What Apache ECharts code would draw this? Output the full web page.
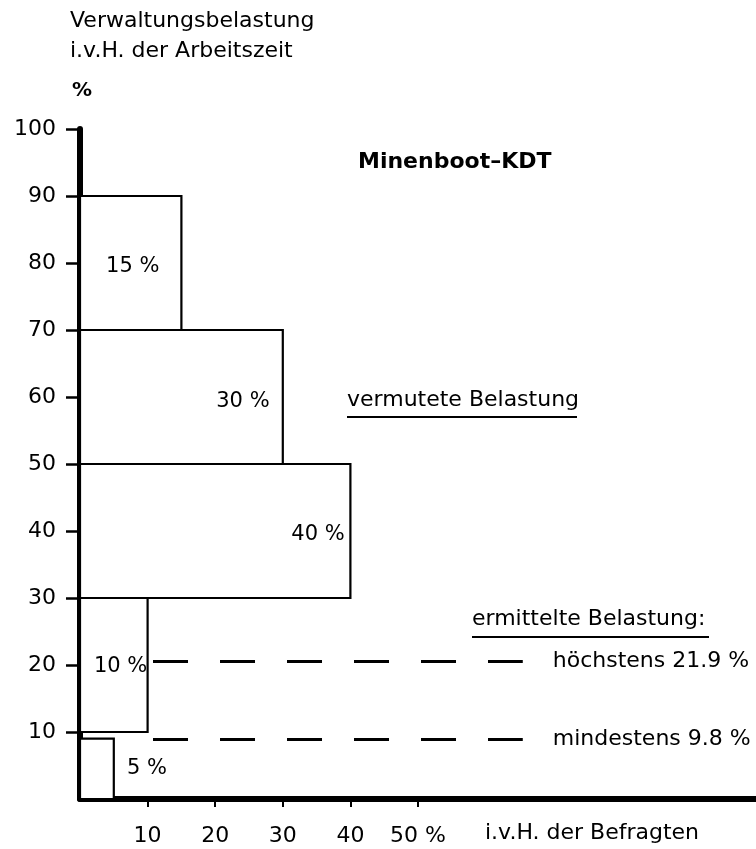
<!DOCTYPE html>
<html>
<head>
<meta charset="utf-8">
<script src="https://cdn.jsdelivr.net/npm/echarts@6/dist/echarts.min.js"></script>
<style>
  html, body { margin: 0; padding: 0; background: #fff; }
  #main { width: 756px; height: 849px; }
</style>
</head>
<body>
<div id="main"></div>
<script>
// Klassen der Verwaltungsbelastung (i.v.H. der Arbeitszeit)
const classFrom = [0, 10, 30, 50, 70];
const classTo = [9, 30, 50, 70, 90];
// Anteil der Befragten (i.v.H.)
const shares = [5, 10, 40, 30, 15];
const shareLabels = ["5 %", "10 %", "40 %", "30 %", "15 %"];
// ermittelte Belastung: Hoehe der Strichlinien, so wie sie gezeichnet sind
const limitLevels = [20.6, 8.9];
const limitNames = ["höchstens 21.9 %", "mindestens 9.8 %"];
const xTicks = [10, 20, 30, 40, 50];
const yTicks = [10, 20, 30, 40, 50, 60, 70, 80, 90, 100];

// wo die Prozentangaben sitzen (x, y in Achsenwerten)
const labelAt = [[9.9, 4.5], [6, 19.8], [35.2, 39.4], [24.1, 59.3], [7.8, 79.5]];

const FONT = "DejaVu Sans";
const INK = "#000";

const myChart = echarts.init(document.getElementById("main"));

const barData = shares.map((s, i) => [classFrom[i], classTo[i], s, i]);

let option = {
  backgroundColor: "#fff",
  animation: false,
  grid: { left: 80, right: 0, top: 129, bottom: 50 },
  xAxis: {
    type: "value",
    min: 0,
    max: 100,
    interval: 10,
    splitLine: { show: false },
    axisLine: { onZero: false, lineStyle: { color: INK, width: 6 } },
    axisTick: { customValues: xTicks, length: 8, lineStyle: { color: INK, width: 2 } },
    axisLabel: {
      customValues: xTicks,
      margin: 26,
      fontFamily: FONT,
      fontSize: 22,
      color: INK,
      formatter: (v) => (v === 50 ? "50 %" : String(v)),
    },
  },
  yAxis: {
    type: "value",
    min: 0,
    max: 100,
    interval: 10,
    splitLine: { show: false },
    axisLine: { onZero: false, lineStyle: { color: INK, width: 6, cap: "round" } },
    axisTick: { customValues: yTicks, length: 14, lineStyle: { color: INK, width: 2.5 } },
    axisLabel: {
      customValues: yTicks,
      margin: 24,
      fontFamily: FONT,
      fontSize: 22,
      color: INK,
      padding: [0, 0, 8, 0],
    },
  },
  series: [
    {
      type: "custom",
      z: 1,
      data: barData,
      renderItem: function (params, api) {
        const y0 = api.value(0);
        const y1 = api.value(1);
        const w = api.value(2);
        const idx = api.value(3);
        const tl = api.coord([0, y1]);
        const br = api.coord([w, y0]);
        const lp = api.coord(labelAt[idx]);
        return {
          type: "group",
          children: [
            {
              type: "rect",
              shape: { x: tl[0], y: tl[1], width: br[0] - tl[0], height: br[1] - tl[1] },
              style: { fill: "#fff", stroke: INK, lineWidth: 2.2 },
            },
            {
              type: "text",
              x: lp[0],
              y: lp[1],
              style: {
                text: shareLabels[idx],
                fontFamily: FONT,
                fontSize: 21,
                fill: INK,
                align: "center",
                verticalAlign: "middle",
              },
            },
          ],
        };
      },
      markLine: {
        silent: true,
        symbol: ["none", "none"],
        lineStyle: { color: INK, width: 3, type: [35, 32] },
        label: {
          position: "end",
          distance: 30,
          fontFamily: FONT,
          fontSize: 22,
          color: INK,
        },
        data: limitLevels.map((v, i) => [
          { coord: [10.8, v], label: { formatter: limitNames[i] } },
          { coord: [65.5, v] },
        ]),
      },
    },
  ],
  graphic: [
    {
      type: "text",
      left: 70,
      top: 10,
      style: { text: "Verwaltungsbelastung", fontFamily: FONT, fontSize: 22, fill: INK },
    },
    {
      type: "text",
      left: 70,
      top: 40,
      style: { text: "i.v.H. der Arbeitszeit", fontFamily: FONT, fontSize: 22, fill: INK },
    },
    {
      type: "text",
      left: 72,
      top: 81,
      style: { text: "%", fontFamily: FONT, fontSize: 20, fontWeight: "bold", fill: INK },
    },
    {
      type: "text",
      left: 358,
      top: 151,
      style: { text: "Minenboot\u2013KDT", fontFamily: FONT, fontSize: 22, fontWeight: "bold", fill: INK },
    },
    {
      type: "text",
      left: 347,
      top: 389,
      style: { text: "vermutete Belastung", fontFamily: FONT, fontSize: 22, fill: INK },
    },
    {
      type: "line",
      shape: { x1: 347, y1: 417, x2: 577, y2: 417 },
      style: { stroke: INK, lineWidth: 2 },
    },
    {
      type: "text",
      left: 472,
      top: 608,
      style: { text: "ermittelte Belastung:", fontFamily: FONT, fontSize: 22, fill: INK },
    },
    {
      type: "line",
      shape: { x1: 472, y1: 637, x2: 709, y2: 637 },
      style: { stroke: INK, lineWidth: 2 },
    },
    {
      type: "text",
      left: 485,
      top: 822,
      style: { text: "i.v.H. der Befragten", fontFamily: FONT, fontSize: 22, fill: INK },
    },
  ],
};

myChart.setOption(option);
</script>
</body>
</html>
